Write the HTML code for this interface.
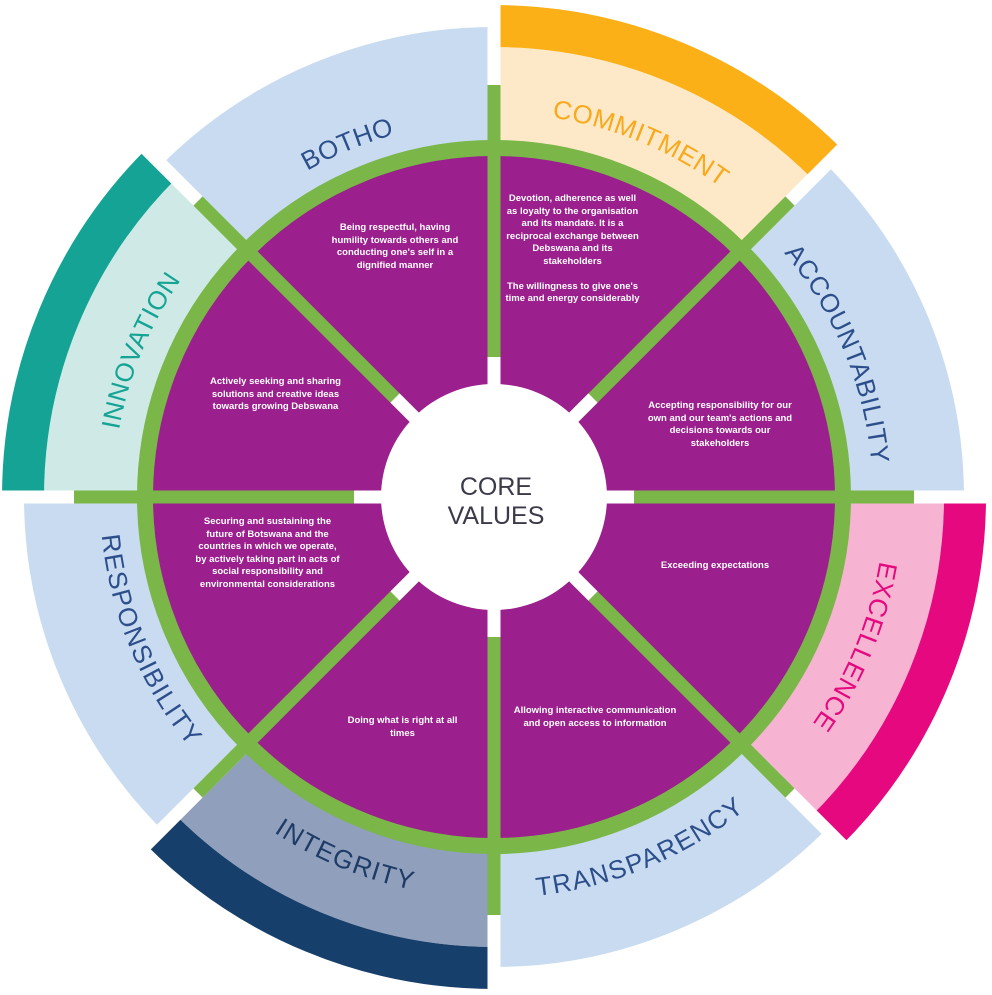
<!DOCTYPE html>
<html><head><meta charset="utf-8"><style>
html,body{margin:0;padding:0;background:#fff;width:992px;height:995px;overflow:hidden;}
#w{position:relative;width:992px;height:995px;overflow:hidden;font-family:"Liberation Sans",sans-serif;}
svg{position:absolute;left:0;top:0;display:block;}
.t{position:absolute;color:#fff;font-weight:bold;font-size:9.5px;line-height:12.5px;text-align:center;}
</style></head><body><div id="w">
<svg width="992" height="995" viewBox="0 0 992 995" overflow="hidden">
<g fill="none" transform="translate(494 497)">
 <circle r="413" stroke="#c9dbf0" stroke-width="114" pathLength="8" stroke-dasharray="1 7" transform="rotate(225)"/>
 <circle r="413" stroke="#c9dbf0" stroke-width="114" pathLength="8" stroke-dasharray="1 7" transform="rotate(315)"/>
 <circle r="413" stroke="#c9dbf0" stroke-width="114" pathLength="8" stroke-dasharray="1 7" transform="rotate(45)"/>
 <circle r="413" stroke="#c9dbf0" stroke-width="114" pathLength="8" stroke-dasharray="1 7" transform="rotate(135)"/>
 <circle r="403" stroke="#fde9c8" stroke-width="94" pathLength="8" stroke-dasharray="1 7" transform="rotate(270)"/>
 <circle r="471" stroke="#fbb017" stroke-width="42" pathLength="8" stroke-dasharray="1 7" transform="rotate(270)"/>
 <circle r="403" stroke="#f6b4d2" stroke-width="94" pathLength="8" stroke-dasharray="1 7" transform="rotate(0)"/>
 <circle r="471" stroke="#e5087f" stroke-width="42" pathLength="8" stroke-dasharray="1 7" transform="rotate(0)"/>
 <circle r="403" stroke="#909fbb" stroke-width="94" pathLength="8" stroke-dasharray="1 7" transform="rotate(90)"/>
 <circle r="471" stroke="#173f6b" stroke-width="42" pathLength="8" stroke-dasharray="1 7" transform="rotate(90)"/>
 <circle r="403" stroke="#cfeae6" stroke-width="94" pathLength="8" stroke-dasharray="1 7" transform="rotate(180)"/>
 <circle r="471" stroke="#14a394" stroke-width="42" pathLength="8" stroke-dasharray="1 7" transform="rotate(180)"/>
 <g stroke="#fff" stroke-width="13">
  <line x1="-520" y1="0" x2="520" y2="0"/>
  <line x1="0" y1="-520" x2="0" y2="520"/>
  <line x1="-370" y1="-370" x2="370" y2="370"/>
  <line x1="-370" y1="370" x2="370" y2="-370"/>
 </g>
 <circle r="345" fill="#9b1f8c"/>
 <circle r="349" stroke="#7ab648" stroke-width="16"/>
 <g stroke="#7ab648" stroke-width="13">
  <line x1="-420" y1="0" x2="420" y2="0"/>
  <line x1="0" y1="-412" x2="0" y2="418"/>
  <line x1="-296" y1="-296" x2="296" y2="296"/>
  <line x1="-296" y1="296" x2="296" y2="-296"/>
 </g>
 <g stroke="#fff" stroke-width="13">
  <line x1="-140" y1="0" x2="140" y2="0"/>
  <line x1="0" y1="-140" x2="0" y2="140"/>
  <line x1="-99" y1="-99" x2="99" y2="99"/>
  <line x1="-99" y1="99" x2="99" y2="-99"/>
 </g>
 <circle r="113" fill="#fff"/>
</g>
<defs>
 <path id="pB" d="M221.8,224.8 A385,385 0 0 1 494,112"/>
 <path id="pC" d="M494,104 A393,393 0 0 1 771.9,219.1"/>
 <path id="pA" d="M768.4,222.6 A388,388 0 0 1 882,497"/>
 <path id="pE" d="M894,497 A400,400 0 0 1 776.8,779.8"/>
 <path id="pT" d="M494,889 A392,392 0 0 0 771.2,774.2"/>
 <path id="pI" d="M216.8,774.2 A392,392 0 0 0 494,889"/>
 <path id="pR" d="M109,497 A385,385 0 0 0 221.8,769.2"/>
 <path id="pN" d="M104,497 A390,390 0 0 1 218.2,221.2"/>
</defs>
<g font-family="Liberation Sans, sans-serif" font-size="26" letter-spacing="1" text-anchor="middle">
 <text fill="#2c4f8c" dy="0.35em"><textPath href="#pB" startOffset="50%">BOTHO</textPath></text>
 <text fill="#f8a91c" dy="0.35em"><textPath href="#pC" startOffset="50%">COMMITMENT</textPath></text>
 <text fill="#2c4f8c" dy="0.35em"><textPath href="#pA" startOffset="50%">ACCOUNTABILITY</textPath></text>
 <text fill="#e5087f" dy="0.35em"><textPath href="#pE" startOffset="50%">EXCELLENCE</textPath></text>
 <text fill="#2c4f8c" dy="0.35em"><textPath href="#pT" startOffset="50%">TRANSPARENCY</textPath></text>
 <text fill="#1d3b66" dy="0.35em"><textPath href="#pI" startOffset="50%">INTEGRITY</textPath></text>
 <text fill="#2c4f8c" dy="0.35em"><textPath href="#pR" startOffset="50%">RESPONSIBILITY</textPath></text>
 <text fill="#14a394" dy="0.35em"><textPath href="#pN" startOffset="50%">INNOVATION</textPath></text>
</g>
<g font-family="Liberation Sans, sans-serif" font-size="25" fill="#3a3a4a" text-anchor="middle">
 <text x="496" y="495">CORE</text>
 <text x="496" y="524">VALUES</text>
</g>
</svg>
<div class="t" style="left:330px;top:222px;width:130px;">Being respectful, having humility towards others and conducting one's self in a dignified manner</div>
<div class="t" style="left:505px;top:193px;width:135px;">Devotion, adherence as well as loyalty to the organisation and its mandate. It is a reciprocal exchange between Debswana and its stakeholders<br><br>The willingness to give one's time and energy considerably</div>
<div class="t" style="left:640px;top:400px;width:160px;">Accepting responsibility for our own and our team's actions and decisions towards our stakeholders</div>
<div class="t" style="left:655px;top:560px;width:120px;">Exceeding expectations</div>
<div class="t" style="left:510px;top:705px;width:170px;">Allowing interactive communication and open access to information</div>
<div class="t" style="left:345px;top:715px;width:115px;">Doing what is right at all times</div>
<div class="t" style="left:195px;top:516px;width:145px;">Securing and sustaining the future of Botswana and the countries in which we operate, by actively taking part in acts of social responsibility and environmental considerations</div>
<div class="t" style="left:208px;top:376px;width:135px;">Actively seeking and sharing solutions and creative ideas towards growing Debswana</div>
</div></body></html>
